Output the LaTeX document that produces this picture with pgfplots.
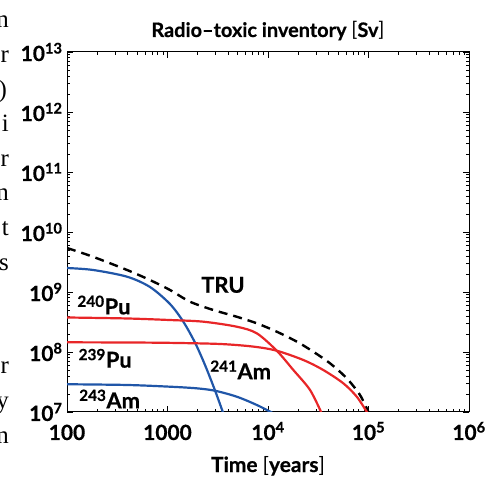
\documentclass[border=0pt]{standalone}
\usepackage{fontspec}
\setmainfont{Lato}[BoldFeatures={FakeBold=0.6}]
\newfontfamily\fragfont{Liberation Serif}
\usepackage{pgfplots}
\pgfplotsset{compat=1.18}
\definecolor{myred}{RGB}{232,38,40}
\definecolor{myblue}{RGB}{32,86,168}
\newcommand{\tickf}{\fontsize{21}{25}\selectfont\bfseries}
\newcommand{\labf}{\fontsize{22}{26}\selectfont\bfseries}
\begin{document}
\begin{tikzpicture}
\useasboundingbox (0,0) rectangle (488bp,478bp);
% cut-off text of the neighbouring column
\begin{scope}[every node/.style={anchor=base east, inner sep=0pt, font=\fragfont\fontsize{25}{30}\selectfont}]
\node at (9bp,450bp) {n};
\node at (9bp,415.4bp) {r};
\node at (7bp,380.8bp) {)};
\node at (9bp,346.2bp) {i};
\node at (9bp,311.6bp) {r};
\node at (9bp,277bp) {n};
\node at (9bp,242.4bp) {t};
\node at (9bp,207.8bp) {s};
\node at (9bp,104bp) {r};
\node at (9bp,69.4bp) {y};
\node at (9bp,34.8bp) {n};
\end{scope}
\begin{axis}[
  name=ax,
  at={(67bp,66bp)}, anchor=south west,
  scale only axis, width=402bp, height=360bp,
  xmode=log, ymode=log,
  xmin=100, xmax=1e6, ymin=1e7, ymax=1e13,
  xtick={100,1000,1e4,1e5,1e6},
  xticklabels={100,1000,10\textsuperscript{4},10\textsuperscript{5},10\textsuperscript{6}},
  ytick={1e7,1e8,1e9,1e10,1e11,1e12,1e13},
  yticklabels={10\textsuperscript{7},10\textsuperscript{8},10\textsuperscript{9},10\textsuperscript{10},10\textsuperscript{11},10\textsuperscript{12},10\textsuperscript{13}},
  tick align=inside, major tick length=6bp, minor tick length=3bp,
  tick style={black, line width=0.7bp},
  axis line style={line width=1bp},
  ticklabel style={font=\tickf},
  xticklabel style={anchor=base, yshift=-28bp},
  yticklabel style={xshift=-1bp},
]
% TRU
\addplot[black, line width=2.4bp, dash pattern=on 9bp off 6bp, smooth] coordinates {
 (100,5.41e9) (181,3.87e9) (395,2.33e9) (670,1.58e9) (1059,1.08e9) (1675,6.89e8)
 (2857,5.01e8) (4884,3.87e8) (7727,3.01e8) (12220,2.18e8) (19320,1.49e8)
 (28250,1.01e8) (41400,6.48e7) (60700,3.65e7) (82250,1.92e7) (99600,1.01e7)
 (103500,9.3e6)};
% 241Am
\addplot[myblue, line width=2.2bp, smooth] coordinates {
 (100,2.51e9) (181,2.33e9) (395,1.80e9) (670,1.21e9) (1059,6.3e8) (1436,3.20e8)
 (1879,1.43e8) (2361,6.07e7) (2972,2.28e7) (3590,9.5e6)};
% 240Pu
\addplot[myred, line width=2.2bp, smooth] coordinates {
 (100,3.76e8) (395,3.62e8) (1059,3.41e8) (2270,3.20e8) (4884,2.64e8) (7727,2.05e8)
 (12220,1.05e8) (17870,5.01e7) (26180,2.33e7) (34200,9.5e6)};
% 239Pu
\addplot[myred, line width=2.2bp, smooth] coordinates {
 (100,1.45e8) (395,1.44e8) (1059,1.42e8) (3327,1.36e8) (7145,1.23e8) (12220,1.05e8)
 (22440,7.36e7) (35480,5.01e7) (56100,3.01e7) (76400,1.80e7) (96000,1.01e7)
 (98900,9.3e6)};
% 243Am
\addplot[myblue, line width=2.2bp, smooth] coordinates {
 (100,2.90e7) (395,2.82e7) (1059,2.64e7) (1954,2.48e7) (2972,2.26e7) (4884,1.80e7)
 (7727,1.31e7) (11300,9.5e6)};
\node[font=\labf] at (rel axis cs:0.388,0.353) {TRU};
\node[font=\labf] at (rel axis cs:0.092,0.297) {\textsuperscript{240}Pu};
\node[font=\labf] at (rel axis cs:0.095,0.149) {\textsuperscript{239}Pu};
\node[font=\labf] at (rel axis cs:0.106,0.036) {\textsuperscript{243}Am};
\node[font=\labf] at (rel axis cs:0.432,0.117) {\textsuperscript{241}Am};
\end{axis}
\node[font=\fontsize{20}{24}\selectfont\bfseries, anchor=base] at ([yshift=15bp]ax.north) {Radio–toxic inventory {\mdseries[}Sv{\mdseries]}};
\node[font=\fontsize{21}{25}\selectfont\bfseries, anchor=base] at ([yshift=-60bp]ax.south) {Time {\mdseries[}years{\mdseries]}};
\end{tikzpicture}
\end{document}
